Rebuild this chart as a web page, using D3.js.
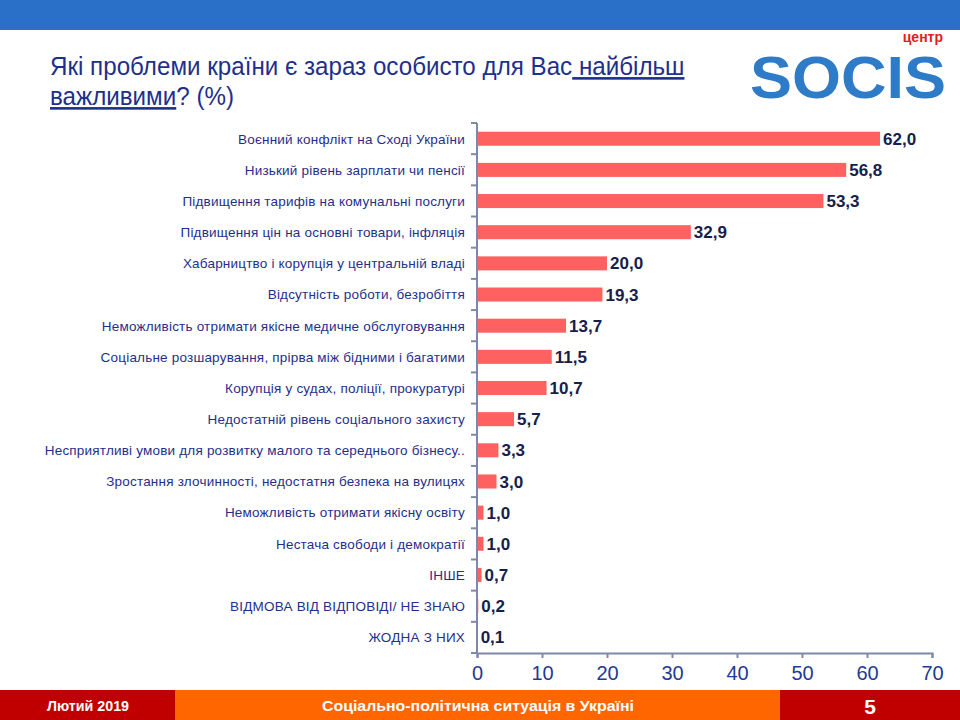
<!DOCTYPE html>
<html>
<head>
<meta charset="utf-8">
<script src="https://cdn.jsdelivr.net/npm/d3@7"></script>
<style>
  body { margin: 0; }
  svg { display: block; font-family: "Liberation Sans", Arial, sans-serif; }
</style>
</head>
<body>
<svg id="chart" width="960" height="720"></svg>
<script>
const categories = [
  "Воєнний конфлікт на Сході України",
  "Низький рівень зарплати чи пенсії",
  "Підвищення тарифів на комунальні послуги",
  "Підвищення цін на основні товари, інфляція",
  "Хабарництво і корупція у центральній владі",
  "Відсутність роботи, безробіття",
  "Неможливість отримати якісне медичне обслуговування",
  "Соціальне розшарування, прірва між бідними і багатими",
  "Корупція у судах, поліції, прокуратурі",
  "Недостатній рівень соціального захисту",
  "Несприятливі умови для розвитку малого та середнього бізнесу..",
  "Зростання злочинності, недостатня безпека на вулицях",
  "Неможливість отримати якісну освіту",
  "Нестача свободи і демократії",
  "ІНШЕ",
  "ВІДМОВА ВІД ВІДПОВІДІ/ НЕ ЗНАЮ",
  "ЖОДНА З НИХ"
];
const values = [62.0, 56.8, 53.3, 32.9, 20.0, 19.3, 13.7, 11.5, 10.7, 5.7, 3.3, 3.0, 1.0, 1.0, 0.7, 0.2, 0.1];
const xTicks = [0, 10, 20, 30, 40, 50, 60, 70];

const svg = d3.select("#chart");
const margin = { top: 123, right: 28, bottom: 67, left: 477 };
const width = 960, height = 720;

// header / footer
svg.append("rect").attr("x", 0).attr("y", 0).attr("width", width).attr("height", 30).attr("fill", "#2B70C8");
svg.append("rect").attr("x", 0).attr("y", 690).attr("width", 175).attr("height", 30).attr("fill", "#C00000");
svg.append("rect").attr("x", 175).attr("y", 690).attr("width", 605).attr("height", 30).attr("fill", "#FF6600");
svg.append("rect").attr("x", 780).attr("y", 690).attr("width", 180).attr("height", 30).attr("fill", "#C00000");

const foot = svg.append("g").attr("fill", "white").attr("font-weight", "bold")
  .attr("text-anchor", "middle");
foot.append("text").attr("x", 88).attr("y", 711).attr("font-size", 15)
  .attr("textLength", 82).attr("lengthAdjust", "spacingAndGlyphs").text("Лютий 2019");
foot.append("text").attr("x", 478).attr("y", 711).attr("font-size", 15)
  .attr("textLength", 312).attr("lengthAdjust", "spacingAndGlyphs").text("Соціально-політична ситуація в Україні");
foot.append("text").attr("x", 870).attr("y", 714).attr("font-size", 21).text("5");

// title, horizontally condensed to look like a narrow face
const t1 = svg.append("g").attr("transform", "translate(50,75) scale(0.93,1)")
  .append("text").attr("font-size", 26).attr("fill", "#1F2F8C");
t1.append("tspan").text("Які проблеми країни є зараз особисто для Вас");
t1.append("tspan").attr("text-decoration", "underline").text("\u00A0найбільш");
const t2 = svg.append("g").attr("transform", "translate(50,105) scale(0.93,1)")
  .append("text").attr("font-size", 26).attr("fill", "#1F2F8C");
t2.append("tspan").attr("text-decoration", "underline").text("важливими");
t2.append("tspan").text("? (%)");

// logo
const logo = svg.append("g").attr("font-weight", "bold");
logo.append("text").attr("x", 943).attr("y", 42).attr("text-anchor", "end")
  .attr("font-size", 14).attr("fill", "#E02020").text("центр");
logo.append("text").attr("x", 848).attr("y", 98).attr("text-anchor", "middle")
  .attr("font-size", 60).attr("fill", "#2E7BC8").attr("textLength", 196).attr("lengthAdjust", "spacingAndGlyphs")
  .text("SOCIS");

// scales
const x = d3.scaleLinear().domain([0, 70]).range([margin.left, width - margin.right]);
const y = d3.scaleBand().domain(categories).range([margin.top, height - margin.bottom]).paddingInner(0.55).paddingOuter(0.28);
const yBand = d3.scaleBand().domain(categories).range([margin.top, height - margin.bottom]);

// bars
svg.append("g").selectAll("rect").data(values).join("rect")
  .attr("x", x(0))
  .attr("y", (d, i) => y(categories[i]))
  .attr("width", d => x(d) - x(0))
  .attr("height", y.bandwidth())
  .attr("fill", "#FF6161");

// value labels
svg.append("g").selectAll("text").data(values).join("text")
  .attr("x", d => x(d) + 3)
  .attr("y", (d, i) => y(categories[i]) + y.bandwidth() / 2)
  .attr("dy", "0.36em")
  .attr("font-size", 17).attr("font-weight", "bold").attr("fill", "#16204A")
  .text(d => d.toFixed(1).replace(".", ","));

// category labels
svg.append("g").selectAll("text").data(categories).join("text")
  .attr("x", margin.left - 12)
  .attr("y", d => y(d) + y.bandwidth() / 2)
  .attr("dy", "0.36em")
  .attr("text-anchor", "end")
  .attr("font-size", 13.5).attr("letter-spacing", 0.2).attr("fill", "#1F2F8C")
  .text(d => d);

const axisColor = "#8088AA";

// y axis line with ticks at band boundaries
const yAxis = svg.append("g");
yAxis.append("line").attr("x1", x(0)).attr("x2", x(0))
  .attr("y1", margin.top).attr("y2", height - margin.bottom)
  .attr("stroke", axisColor).attr("stroke-width", 2);
const bounds = categories.map(c => yBand(c)).concat([height - margin.bottom]);
yAxis.selectAll(".tk").data(bounds).join("line")
  .attr("x1", x(0) - 6).attr("x2", x(0))
  .attr("y1", d => d).attr("y2", d => d)
  .attr("stroke", axisColor).attr("stroke-width", 2);

// x axis
const xAxis = svg.append("g")
  .attr("transform", `translate(0,${height - margin.bottom})`)
  .call(d3.axisBottom(x).tickValues(xTicks).tickSize(5).tickPadding(8).tickFormat(d3.format("d")));
xAxis.select(".domain").attr("stroke", axisColor).attr("stroke-width", 2);
xAxis.selectAll(".tick line").attr("stroke", axisColor).attr("stroke-width", 2);
xAxis.selectAll(".tick text").attr("fill", "#1F3A93").attr("font-size", 20)
  .attr("font-family", "'Liberation Sans', Arial, sans-serif");
</script>
</body>
</html>
